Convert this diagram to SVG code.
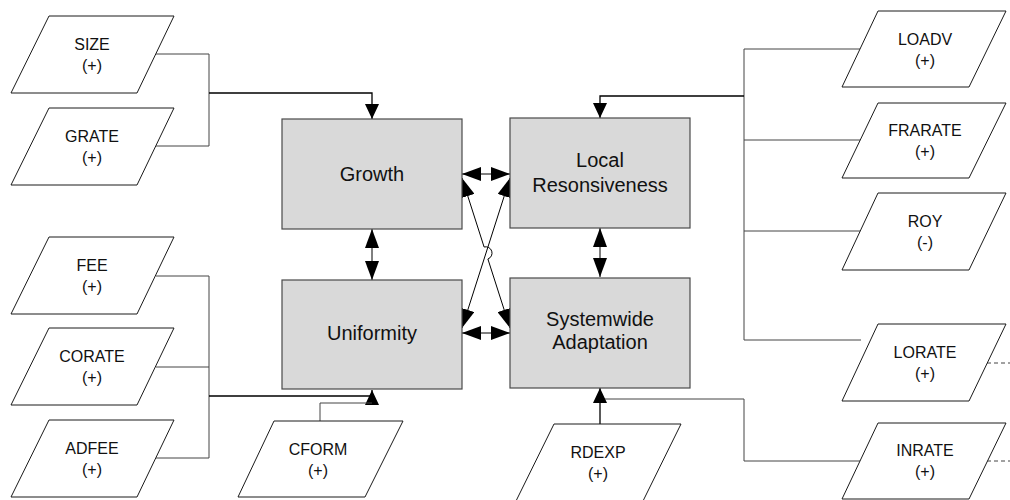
<svg xmlns="http://www.w3.org/2000/svg" width="1010" height="500" viewBox="0 0 1010 500">
<defs>
<style>
.box{fill:#d9d9d9;stroke:#4a4a4a;stroke-width:1.2}
.para{fill:#fff;stroke:#1a1a1a;stroke-width:1}
.lbl{font-family:"Liberation Sans",Arial,sans-serif;font-size:16px;fill:#111;text-anchor:middle}
.big{font-family:"Liberation Sans",Arial,sans-serif;font-size:20px;fill:#111;text-anchor:middle}
.feed{fill:none;stroke:#444;stroke-width:1}
.main{fill:none;stroke:#000;stroke-width:1.3}
.thin{fill:none;stroke:#000;stroke-width:1}
.dash{fill:none;stroke:#444;stroke-width:1;stroke-dasharray:4,3}
</style>
<marker id="ah" markerUnits="userSpaceOnUse" markerWidth="15" markerHeight="14" refX="15" refY="7" orient="auto-start-reverse">
<path d="M0,0 L15,7 L0,14 z" fill="#000"/>
</marker>
<marker id="ah2" markerUnits="userSpaceOnUse" markerWidth="19" markerHeight="14" refX="19" refY="7" orient="auto-start-reverse">
<path d="M0,0 L19,7 L0,14 z" fill="#000"/>
</marker>
</defs>

<g id="connectors">
<path class="feed" d="M156,54 H209 V146 H156"/>
<path class="main" d="M209,93 H372 V119" marker-end="url(#ah)"/>
<path class="feed" d="M156,276 H209 V458 H156 M156,367 H209"/>
<path class="main" d="M209,396 H372 V390" marker-end="url(#ah)"/>
<path class="feed" d="M320,421 V403 H372"/>
<path class="feed" d="M861,49 H744 V340 H861 M744,140 H861 M744,231 H861"/>
<path class="main" d="M744,96 H600 V118" marker-end="url(#ah)"/>
<path class="feed" d="M861,461 H744 V399 H600"/>
<path class="main" d="M600,424 V388" marker-end="url(#ah)"/>
<path class="dash" d="M987,363 H1010 M987,461 H1010"/>
<path class="thin" d="M462,174 H510" marker-start="url(#ah2)" marker-end="url(#ah2)"/>
<path class="thin" d="M462,333 H510" marker-start="url(#ah2)" marker-end="url(#ah2)"/>
<path class="thin" d="M372,229 V280" marker-start="url(#ah2)" marker-end="url(#ah2)"/>
<path class="thin" d="M600,228 V277" marker-start="url(#ah2)" marker-end="url(#ah2)"/>
<path class="thin" d="M462,178 L484.1,247 A6.3,6.3 0 0 1 487.9,259 L510,328" marker-start="url(#ah2)" marker-end="url(#ah2)"/>
<path class="thin" d="M510,178 L462,328" marker-start="url(#ah2)" marker-end="url(#ah2)"/>
</g>

<g id="growth"><rect class="box" x="282" y="119" width="180" height="110"/><text class="big" x="372" y="181">Growth</text></g>
<g id="local"><rect class="box" x="510" y="118" width="180" height="110"/><text class="big" x="600" y="167">Local</text><text class="big" x="600" y="192">Resonsiveness</text></g>
<g id="uniformity"><rect class="box" x="282" y="280" width="180" height="109"/><text class="big" x="372" y="340">Uniformity</text></g>
<g id="systemwide"><rect class="box" x="510" y="278" width="180" height="110"/><text class="big" x="600" y="326">Systemwide</text><text class="big" x="600" y="349">Adaptation</text></g>

<g id="size"><polygon class="para" points="49,16 174,16 137,93 11,93"/><text class="lbl" x="92" y="50">SIZE</text><text class="lbl" x="92" y="71">(+)</text></g>
<g id="grate"><polygon class="para" points="49,108 174,108 137,185 11,185"/><text class="lbl" x="92" y="142">GRATE</text><text class="lbl" x="92" y="163">(+)</text></g>
<g id="fee"><polygon class="para" points="49,237 174,237 137,314 11,314"/><text class="lbl" x="92" y="271">FEE</text><text class="lbl" x="92" y="292">(+)</text></g>
<g id="corate"><polygon class="para" points="49,328 174,328 137,405 11,405"/><text class="lbl" x="92" y="362">CORATE</text><text class="lbl" x="92" y="383">(+)</text></g>
<g id="adfee"><polygon class="para" points="49,420 174,420 137,497 11,497"/><text class="lbl" x="92" y="454">ADFEE</text><text class="lbl" x="92" y="475">(+)</text></g>
<g id="cform"><polygon class="para" points="274,421 403,421 365,497 238,497"/><text class="lbl" x="318" y="455">CFORM</text><text class="lbl" x="318" y="476">(+)</text></g>
<g id="rdexp"><polygon class="para" points="554,424 681,424 643,501 516,501"/><text class="lbl" x="598" y="458">RDEXP</text><text class="lbl" x="598" y="479">(+)</text></g>

<g id="loadv"><polygon class="para" points="878,11 1006,11 969,87 842,87"/><text class="lbl" x="925" y="45">LOADV</text><text class="lbl" x="925" y="66">(+)</text></g>
<g id="frarate"><polygon class="para" points="878,103 1006,103 969,178 842,178"/><text class="lbl" x="925" y="136">FRARATE</text><text class="lbl" x="925" y="157">(+)</text></g>
<g id="roy"><polygon class="para" points="878,193 1006,193 969,270 842,270"/><text class="lbl" x="925" y="227">ROY</text><text class="lbl" x="925" y="248">(-)</text></g>
<g id="lorate"><polygon class="para" points="878,324 1006,324 969,401 842,401"/><text class="lbl" x="925" y="358">LORATE</text><text class="lbl" x="925" y="379">(+)</text></g>
<g id="inrate"><polygon class="para" points="878,423 1006,423 969,499 842,499"/><text class="lbl" x="925" y="456">INRATE</text><text class="lbl" x="925" y="477">(+)</text></g>
</svg>
